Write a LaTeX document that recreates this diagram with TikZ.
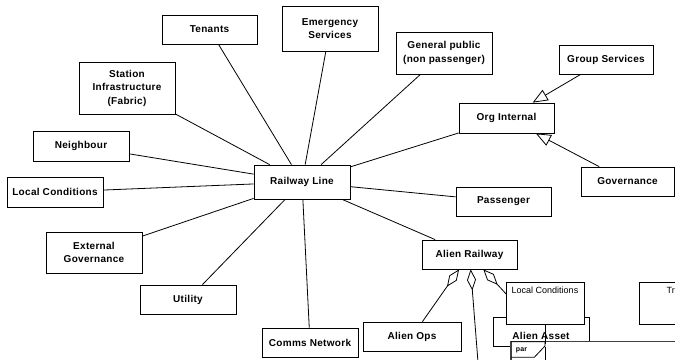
\documentclass[tikz,border=0pt]{standalone}
\usepackage{fontspec}
\setmainfont[LetterSpace=3]{Liberation Sans}
\newfontfamily\plainfont{Liberation Sans}
\usetikzlibrary{arrows.meta}

\tikzset{
  ent/.style={draw, fill=white, line width=0.8pt, inner sep=0pt, align=center,
    minimum width=96pt, minimum height=29pt,
    font=\bfseries\fontsize{10}{13.5}\selectfont},
  lifebox/.style={draw, fill=white, line width=0.8pt, inner sep=0pt,
    minimum width=78pt, minimum height=42pt,
    font=\plainfont\fontsize{9}{11}\selectfont},
  link/.style={line width=0.8pt},
  gen/.style={link, -{Triangle[open, length=15pt, width=12pt]}},
  agg/.style={link, {Diamond[open, length=21pt, width=9pt]}-},
  lifeline/.style={line width=0.8pt, dash pattern=on 20pt off 3pt},
  frameline/.style={draw=black!75, line width=1.2pt},
}

\begin{document}
\begin{tikzpicture}[x=1pt, y=-1pt]
\useasboundingbox (0,0) rectangle (675,359);

% central block and its neighbours
\node[ent, minimum height=34pt] (rail) at (302,182) {Railway Line};
\node[ent, minimum width=95pt] (tenants) at (209.5,29.5) {Tenants};
\node[ent, minimum height=45pt] (emerg) at (330,28.5) {Emergency\\Services};
\node[ent, minimum height=42pt] (public) at (444,53) {General public\\(non passenger)};
\node[ent, minimum height=52pt] (station) at (127,88) {Station\\Infrastructure\\(Fabric)};
\node[ent, minimum height=30pt] (neigh) at (81,146) {Neighbour};
\node[ent, minimum height=30pt] (localc) at (55,192) {Local Conditions};
\node[ent, minimum height=41pt] (extgov) at (94,252.5) {External\\Governance};
\node[ent] (utility) at (188,299.5) {Utility};
\node[ent] (comms) at (310,342.5) {Comms Network};
\node[ent, minimum width=95pt] (passenger) at (503.5,201.5) {Passenger};
\node[ent, minimum width=95pt, minimum height=30pt] (org) at (506.5,118) {Org Internal};
\node[ent, minimum width=94pt] (group) at (606,59.5) {Group Services};
\node[ent, minimum width=93pt] (gov) at (627.5,181.5) {Governance};
\node[ent, minimum width=95pt] (alienrail) at (469.5,254.5) {Alien Railway};
\node[ent, minimum width=98pt] (alienops) at (412,336.5) {Alien Ops};
\node[ent, text height=16pt, text depth=0pt] (asset) at (541,331.5) {Alien Asset};

% associations with the railway line
\foreach \n in {tenants, emerg, public, station, neigh, localc, extgov,
                utility, comms, passenger, org, alienrail}
  \draw[link] (rail) -- (\n);

% generalisations into the internal organisation
\draw[gen] (group) -- (org);
\draw[gen] (gov) -- (org);

% aggregations of the alien railway
\coordinate (below) at (478,362);
\draw[agg] (alienrail) -- (alienops);
\draw[agg] (alienrail) -- (below);
\draw[agg] (alienrail) -- (asset);

% lifeline heads
\node[lifebox, text height=8pt, text depth=27pt] (lc) at (545,303) {Local Conditions};
\node[lifebox, minimum width=79pt] (tr) at (678.5,303) {};
\node[font=\plainfont\fontsize{9}{11}\selectfont, anchor=west, inner sep=0pt] (trlabel) at (666.5,290) {Tr};

% combined fragment
\fill[white] (511,341.7) rectangle (680,362);
\draw[frameline] (511,362) -- (511,341.7) -- (680,341.7);
\draw[line width=0.8pt] (511,341.7) -- (545,341.7) -- (545,346) -- (534.3,357.3) -- (511,357.3);
\node[font=\bfseries\fontsize{7}{8}\selectfont, inner sep=0pt] (par) at (521.5,350) {par};

% lifeline of local conditions
\coordinate (lcend) at (545,362);
\draw[lifeline] (lc.south) -- (lcend);
\end{tikzpicture}
\end{document}
